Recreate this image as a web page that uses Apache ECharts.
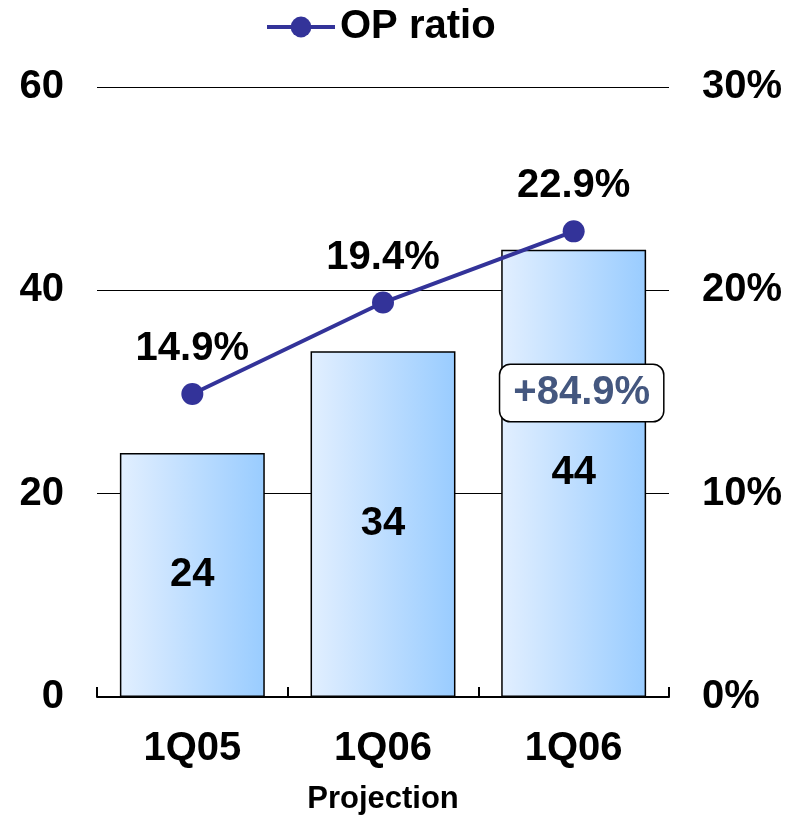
<!DOCTYPE html>
<html><head><meta charset="utf-8">
<script src="https://cdn.jsdelivr.net/npm/echarts@6/dist/echarts.min.js"></script>
<style>html,body{margin:0;padding:0;background:#fff}#c{width:795px;height:820px}</style>
</head><body><div id="c"></div>
<script>
const categories = ['1Q05', '1Q06', '1Q06'];
const opValues = [24, 34, 44];
const opRatio = [14.9, 19.4, 22.9];
const growthLabel = '+84.9%';
const axisName = 'Projection';

const FF = '"Liberation Sans", Arial, sans-serif';
const FS = 40;
const chart = echarts.init(document.getElementById('c'));
chart.setOption({
  animation: false,
  textStyle: { fontFamily: FF },
  legend: {
    data: [{ name: 'OP ratio', lineStyle: { width: 4, color: '#333399' } }],
    top: 2, left: 260,
    itemWidth: 68, itemHeight: 26, itemGap: 10,
    textStyle: { fontFamily: FF, fontSize: FS, fontWeight: 'bold', color: '#000' }
  },
  grid: { left: 97, right: 126, top: 87, bottom: 120 },
  xAxis: {
    type: 'category', data: categories,
    name: axisName, nameLocation: 'middle', nameGap: 87,
    nameTextStyle: { fontFamily: FF, fontSize: 31, fontWeight: 'bold', color: '#000' },
    axisLine: { lineStyle: { color: '#000', width: 2 } },
    axisTick: { show: true, inside: true, length: 10, lineStyle: { color: '#000', width: 2 } },
    axisLabel: { margin: 32, fontFamily: FF, fontSize: FS, fontWeight: 'bold', color: '#000' }
  },
  yAxis: [
    { type: 'value', min: 0, max: 60, interval: 20,
      axisLine: { show: false }, axisTick: { show: false },
      splitLine: { lineStyle: { color: '#000', width: 1.2 } },
      axisLabel: { margin: 33, fontFamily: FF, fontSize: FS, fontWeight: 'bold', color: '#000' } },
    { type: 'value', min: 0, max: 30, interval: 10,
      axisLine: { show: false }, axisTick: { show: false }, splitLine: { show: false },
      axisLabel: { margin: 33, formatter: '{value}%', fontFamily: FF, fontSize: FS, fontWeight: 'bold', color: '#000' } }
  ],
  series: [
    { name: 'OP', type: 'bar', data: opValues, barWidth: '76%', z: 1,
      itemStyle: {
        color: new echarts.graphic.LinearGradient(0, 0, 1, 0, [
          { offset: 0, color: '#e2efff' }, { offset: 1, color: '#99ccff' }]),
        borderColor: '#000', borderWidth: 1.5 },
      label: { show: true, position: 'inside', fontFamily: FF, fontSize: FS, fontWeight: 'bold', color: '#000' },
      markPoint: {
        symbol: 'rect', symbolSize: 1, itemStyle: { color: 'rgba(0,0,0,0)' },
        data: [{ coord: [2, 30], value: growthLabel }],
        label: { show: true, position: 'inside', offset: [8, 1], formatter: growthLabel,
          fontFamily: FF, fontSize: FS, fontWeight: 'bold', color: '#44577f',
          backgroundColor: '#fff', borderColor: '#000', borderWidth: 1.5, borderRadius: 10,
          padding: [9, 13, 7, 13] }
      }
    },
    { name: 'OP ratio', type: 'line', yAxisIndex: 1, data: opRatio, z: 5,
      lineStyle: { color: '#333399', width: 4 },
      itemStyle: { color: '#333399' },
      symbol: 'circle', symbolSize: 22,
      label: { show: true, position: 'top', distance: 14, formatter: '{c}%',
        fontFamily: FF, fontSize: FS, fontWeight: 'bold', color: '#000' } }
  ]
});
</script></body></html>
